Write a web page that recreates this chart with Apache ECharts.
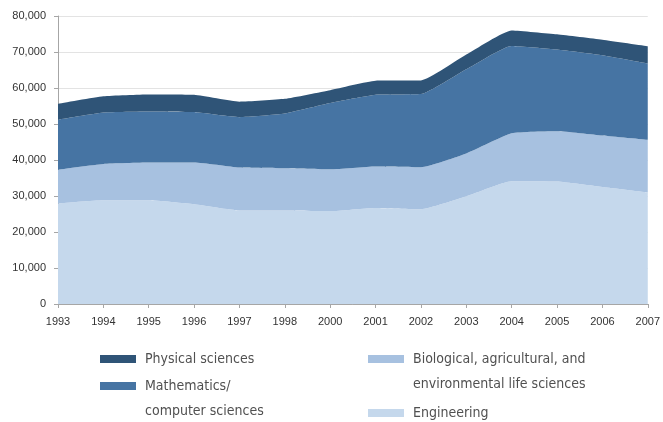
<!DOCTYPE html>
<html>
<head>
<meta charset="utf-8">
<script src="https://cdn.jsdelivr.net/npm/echarts@6/dist/echarts.min.js"></script>
<style>
  html, body { margin: 0; padding: 0; background: #fff; }
  #chart { width: 663px; height: 422px; }
</style>
</head>
<body>
<div id="chart"></div>
<script>
// Years on the horizontal axis (1999 is not reported)
const years = ['1993','1994','1995','1996','1997','1998','2000','2001','2002','2003','2004','2005','2006','2007'];

// Counts per field, stacked bottom to top
const engineering = [27900, 28800, 28800, 27700, 26000, 26000, 25800, 26700, 26300, 29900, 34100, 34000, 32500, 31000];
const biological  = [ 9400, 10100, 10500, 11600, 11900, 11700, 11600, 11500, 11700, 11900, 13300, 14000, 14300, 14600];
const mathematics = [13900, 14300, 14200, 14000, 14000, 15200, 18400, 19900, 20300, 23400, 24300, 22700, 22300, 21200];
const physical    = [ 4400,  4500,  4700,  4800,  4300,  4100,  3600,  3900,  3800,  4100,  4300,  4200,  4300,  4800];

const colors = {
  physical: '#2f5477',
  mathematics: '#4674a3',
  biological: '#a7c1e0',
  engineering: '#c5d8ec'
};

const names = {
  physical: 'Physical sciences',
  mathematics: 'Mathematics/\ncomputer sciences',
  biological: 'Biological, agricultural, and\nenvironmental life sciences',
  engineering: 'Engineering'
};

function areaSeries(name, data, color) {
  return {
    name: name,
    type: 'line',
    stack: 'total',
    data: data,
    symbol: 'none',
    smooth: 0.15,
    lineStyle: { width: 0 },
    areaStyle: { color: color, opacity: 1 },
    itemStyle: { color: color },
    emphasis: { disabled: true }
  };
}

const legendFont = {
  fontFamily: '"Liberation Sans Narrow", "DejaVu Sans Condensed", sans-serif',
  fontSize: 14,
  color: '#505050',
  lineHeight: 25,
  padding: [0, 0, 0, 4]
};

// Two-line labels get an empty leading line so the swatch sits beside the first line
function legendItem(name, left, top, twoLines) {
  return {
    data: [name],
    left: left,
    top: top,
    padding: 0,
    itemWidth: 36,
    itemHeight: 8,
    itemGap: 0,
    icon: 'rect',
    selectedMode: false,
    formatter: n => (twoLines ? '\n' + n : n),
    textStyle: legendFont
  };
}

const chart = echarts.init(document.getElementById('chart'), null, { renderer: 'canvas' });

chart.setOption({
  animation: false,
  backgroundColor: '#ffffff',
  grid: { left: 58, right: 12, top: 16, bottom: 118, containLabel: false },
  legend: [
    legendItem(names.physical, 100, 346.5, false),
    legendItem(names.mathematics, 100, 348.5, true),
    legendItem(names.biological, 368, 321.5, true),
    legendItem(names.engineering, 368, 400.5, false)
  ],
  xAxis: {
    type: 'category',
    data: years,
    boundaryGap: false,
    axisLine: { lineStyle: { color: '#a6a6a6', width: 1 } },
    axisTick: { show: true, length: 4, inside: false, lineStyle: { color: '#a6a6a6' }, interval: 0 },
    axisLabel: {
      interval: 0,
      margin: 12,
      color: '#333333',
      fontFamily: '"Liberation Sans", Arial, sans-serif',
      fontSize: 11
    },
    splitLine: { show: false }
  },
  yAxis: {
    type: 'value',
    min: 0,
    max: 80000,
    interval: 10000,
    axisLine: { show: true, lineStyle: { color: '#a6a6a6', width: 1 } },
    axisTick: { show: true, length: 4, lineStyle: { color: '#a6a6a6' } },
    axisLabel: {
      margin: 12,
      color: '#333333',
      fontFamily: '"Liberation Sans", Arial, sans-serif',
      fontSize: 11,
      formatter: v => v.toLocaleString('en-US')
    },
    splitLine: { show: true, lineStyle: { color: '#e3e3e3', width: 1 } }
  },
  series: [
    areaSeries(names.engineering, engineering, colors.engineering),
    areaSeries(names.biological, biological, colors.biological),
    areaSeries(names.mathematics, mathematics, colors.mathematics),
    areaSeries(names.physical, physical, colors.physical)
  ]
});
</script>
</body>
</html>
